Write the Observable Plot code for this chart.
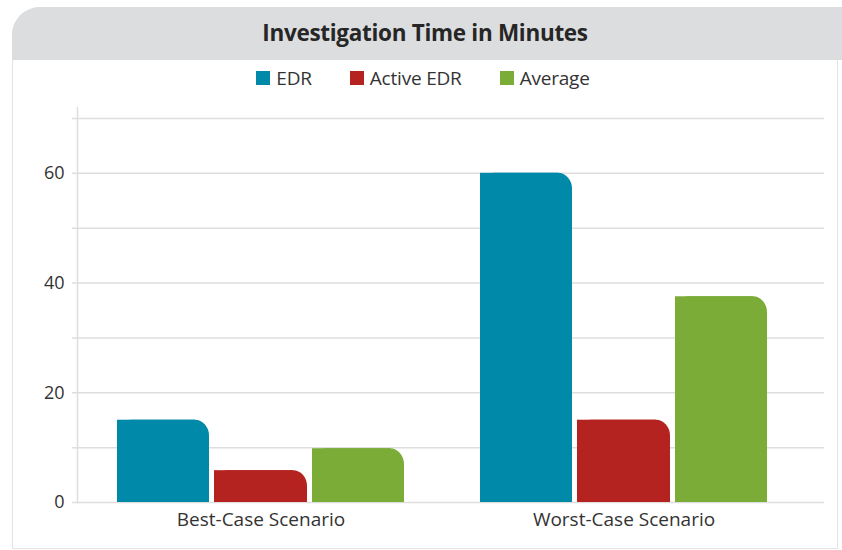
<!DOCTYPE html>
<html>
<head>
<meta charset="utf-8">
<script src="https://cdn.jsdelivr.net/npm/d3@7"></script>
<script src="https://cdn.jsdelivr.net/npm/@observablehq/plot@0.6"></script>
<style>
  html, body { margin: 0; padding: 0; background: #fff; overflow: hidden; }
  body { width: 842px; height: 550px; position: relative; font-family: "Open Sans", "Noto Sans", sans-serif; color: #333; }
  #card { position: absolute; left: 12px; top: 7px; width: 826px; height: 542px; box-sizing: border-box;
          border: 1.5px solid #e4e4e4; border-top: none; border-top-left-radius: 28px; background: #fff; }
  #header { position: absolute; left: 12px; top: 7px; width: 836px; height: 53px; background: #dcdddf;
            border-top-left-radius: 28px; display: flex; align-items: center; justify-content: center; }
  #title { font-size: 22.5px; font-weight: 700; color: #262626; margin-left: -10px; letter-spacing: -0.3px; margin-top: -2px; }
  #legend { position: absolute; left: 0; top: 65px; width: 846px; display: flex; justify-content: center; }
  .item { display: flex; align-items: center; font-size: 19px; color: #333; margin: 0 19px; letter-spacing: -0.2px; }
  .sw { width: 14px; height: 14px; margin-right: 6px; }
  #chart { position: absolute; left: 0; top: 90px; }
</style>
</head>
<body>
<div id="card"></div>
<div id="header"><div id="title">Investigation Time in Minutes</div></div>
<div id="legend"></div>
<div id="chart"></div>
<script>
const scenarios = ["Best-Case Scenario", "Worst-Case Scenario"];
const seriesNames = ["EDR", "Active EDR", "Average"];
const seriesColors = ["#0089a8", "#b52320", "#7bac38"];
const edrValues = [15, 60];
const activeEdrValues = [5.8, 15];
const averageValues = [9.8, 37.5];
const gridTicks = [0, 10, 20, 30, 40, 50, 60, 70];
const labelTicks = [0, 20, 40, 60];

const valuesBySeries = [edrValues, activeEdrValues, averageValues];
const data = seriesNames.flatMap((s, i) => scenarios.map((sc, j) => ({scenario: sc, series: s, value: valuesBySeries[i][j]})));

// legend
const legend = document.getElementById("legend");
seriesNames.forEach((s, i) => {
  const item = document.createElement("div");
  item.className = "item";
  const sw = document.createElement("div");
  sw.className = "sw";
  sw.style.background = seriesColors[i];
  const t = document.createElement("span");
  t.textContent = s;
  item.appendChild(sw); item.appendChild(t);
  legend.appendChild(item);
});

// bar placement inside each scenario band (pixels)
const insets = [[38, 233], [135, 135], [233, 38]];
const R = 14, RY = 16;

const barMarks = seriesNames.flatMap((s, i) => {
  const d = data.filter(e => e.series === s);
  const [l, r] = insets[i];
  const common = {x: "scenario", y: "value", fill: "series", insetLeft: l, insetRight: r};
  return [
    Plot.barY(d, {...common, rx: R, ry: RY}),
    Plot.barY(d, {...common, insetTop: RY}),
    Plot.barY(d, {...common, insetRight: r + R})
  ];
});

const plot = Plot.plot({
  width: 842,
  height: 455,
  marginLeft: 72,
  marginRight: 18,
  marginTop: 17,
  marginBottom: 43,
  style: {fontFamily: "'Open Sans', 'Noto Sans', sans-serif", color: "#333", background: "transparent", overflow: "visible"},
  x: {type: "band", domain: scenarios, range: [79, 805], padding: 0},
  y: {domain: [0, 72]},
  color: {domain: seriesNames, range: seriesColors},
  marks: [
    Plot.ruleY(gridTicks, {stroke: "#dedede", strokeWidth: 1.5, strokeOpacity: 1}),
    Plot.frame({anchor: "left", dx: 5, stroke: "#dedede", strokeWidth: 1.5, strokeOpacity: 1}),
    ...barMarks,
    Plot.axisY(labelTicks, {tickSize: 0, tickPadding: 8, fontSize: 18, label: null, fill: "#333"}),
    Plot.axisX({tickSize: 0, tickPadding: 10, fontSize: 19, label: null, fill: "#333"})
  ]
});
document.getElementById("chart").appendChild(plot);
</script>
</body>
</html>
